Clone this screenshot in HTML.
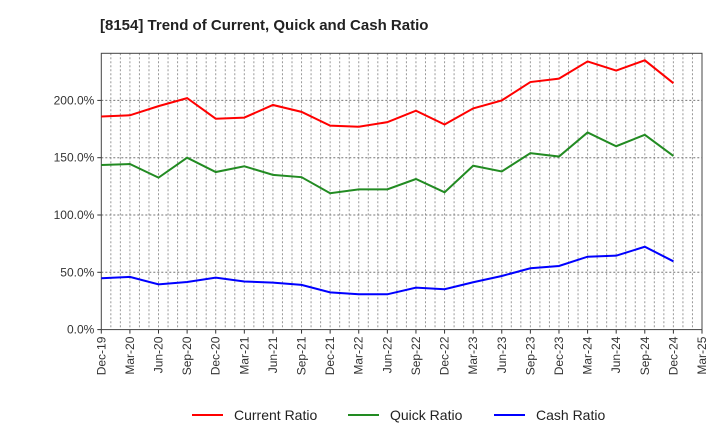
<!DOCTYPE html>
<html><head><meta charset="utf-8"><style>
body{margin:0;background:#fff;font-family:"Liberation Sans",sans-serif}
svg text{font-family:"Liberation Sans",sans-serif}
</style></head><body>
<svg id="chart" width="720" height="440" xmlns="http://www.w3.org/2000/svg">
<text x="100" y="30" font-size="15" font-weight="bold" fill="#222">[8154]  Trend of Current, Quick and Cash Ratio</text>
<g id="grid"></g><g id="axes"></g><g id="series"></g><g id="legend"></g>
</svg>
<script>
const categories=["Dec-19","Mar-20","Jun-20","Sep-20","Dec-20","Mar-21","Jun-21","Sep-21","Dec-21","Mar-22","Jun-22","Sep-22","Dec-22","Mar-23","Jun-23","Sep-23","Dec-23","Mar-24","Jun-24","Sep-24","Dec-24","Mar-25"];
const currentRatio=[186,187,195,202,184,185,196,190,178,177,181,191,179,193,200,216,219,234,226,235,215];
const quickRatio=[143.6,144.5,132.6,150,137.5,142.5,135,133,119,122.4,122.4,131.4,119.8,143,138,154,151,172,160,170,151.5];
const cashRatio=[44.8,46,39.5,41.5,45.3,42,41,39,32.5,30.8,30.8,36.6,35.2,41.3,46.8,53.5,55.5,63.6,64.5,72.3,59.6];
const yTicks=[0,50,100,150,200];
const yTickLabels=["0.0%","50.0%","100.0%","150.0%","200.0%"];
const L=101.3,R=702,T=53.3,B=329.6,YMAX=241.1;
const NS="http://www.w3.org/2000/svg";
const x=i=>L+i*(R-L)/(categories.length-1);
const y=v=>B-v/YMAX*(B-T);
function mk(tag,attrs,parent){const e=document.createElementNS(NS,tag);for(const k in attrs)e.setAttribute(k,attrs[k]);parent.appendChild(e);return e;}
const grid=document.getElementById('grid'),axes=document.getElementById('axes'),series=document.getElementById('series'),legend=document.getElementById('legend');
// monthly vertical grid
for(let m=1;m<(categories.length-1)*3;m++){const xx=L+m*(R-L)/((categories.length-1)*3);
const g=mk('line',{x1:xx,x2:xx,y1:T,y2:B,stroke:'#999','stroke-width':1,'stroke-dasharray':'2,2'},grid);

}
yTicks.forEach((v,i)=>{
 if(v>0){const g=mk('line',{x1:L,x2:R,y1:y(v),y2:y(v),stroke:'#777','stroke-width':1,'stroke-dasharray':'2,2'},grid);
 
 }
 const t=mk('text',{x:L-7,y:y(v)+4,'text-anchor':'end','font-size':12,fill:'#333'},axes);t.textContent=yTickLabels[i];
 
 
 mk('line',{x1:L-4,x2:L,y1:y(v),y2:y(v),stroke:'#333'},axes);
});
categories.forEach((c,i)=>{
 const t=mk('text',{transform:`translate(${x(i)+4},${B+7}) rotate(-90)`,'text-anchor':'end','font-size':12,fill:'#333'},axes);t.textContent=c;
 
 
 mk('line',{x1:x(i),x2:x(i),y1:B,y2:B+4,stroke:'#333'},axes);
});
const fr=mk('rect',{x:L,y:T,width:R-L,height:B-T,fill:'none',stroke:'#444','stroke-width':1},axes);


const sers=[[currentRatio,'#ff0000','Current Ratio','current-ratio-line'],[quickRatio,'#228b22','Quick Ratio','quick-ratio-line'],[cashRatio,'#0000ff','Cash Ratio','cash-ratio-line']];
sers.forEach(([d,col,name,dn])=>{
 const p=mk('polyline',{points:d.map((v,i)=>x(i)+','+y(v)).join(' '),fill:'none',stroke:col,'stroke-width':2},series);
 
 
});
const lx=[192,348,494];
sers.forEach(([d,col,name],i)=>{
 const g=mk('g',{},legend);
 
 
 mk('line',{x1:lx[i],x2:lx[i]+31,y1:415,y2:415,stroke:col,'stroke-width':2},g);
 const t=mk('text',{x:lx[i]+42,y:420,'font-size':14,fill:'#222'},g);t.textContent=name;
});
</script>
</body></html>
